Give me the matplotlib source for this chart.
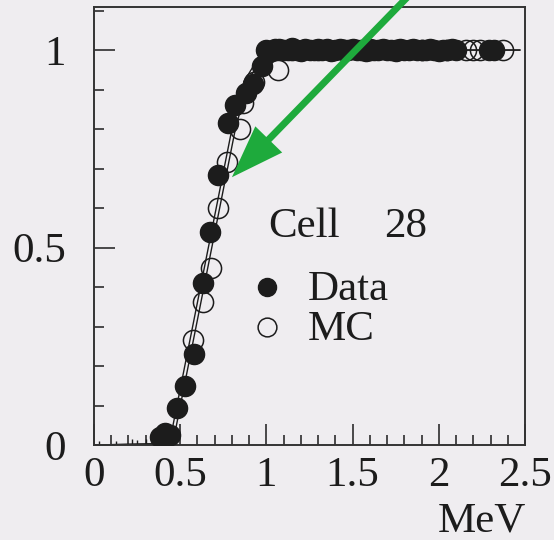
import matplotlib
matplotlib.use("Agg")
import matplotlib.pyplot as plt
from matplotlib.patches import ArrowStyle
from matplotlib.ticker import MultipleLocator

plt.rcParams['font.family'] = ['Liberation Serif', 'DejaVu Serif']

# Efficiency of cell 28 versus deposited energy (MeV)
data_x = [0.38, 0.41, 0.44, 0.48, 0.53, 0.58, 0.63, 0.675, 0.72, 0.775, 0.82,
          0.88, 0.92, 0.975,
          1.000, 1.025, 1.050, 1.075, 1.100, 1.125, 1.150, 1.175, 1.200, 1.225,
          1.250, 1.275, 1.300, 1.325, 1.350, 1.375, 1.400, 1.425, 1.450, 1.475,
          1.500, 1.525, 1.550, 1.575, 1.600, 1.625, 1.650, 1.675, 1.700, 1.725,
          1.750, 1.775, 1.800, 1.825, 1.850, 1.875, 1.900, 1.925, 1.950, 1.975,
          2.000, 2.025, 2.050, 2.075, 2.100, 2.290, 2.320]
data_y = [0.02, 0.03, 0.025, 0.094, 0.15, 0.23, 0.41, 0.54, 0.683, 0.815, 0.86,
          0.89, 0.915, 0.96,
          1.000, 0.998, 1.002, 1.003, 0.999, 1.001, 1.004, 1.000, 0.998, 1.002,
          1.001, 0.999, 1.003, 1.000, 1.002, 0.998, 1.001, 1.003, 1.000, 0.999,
          1.002, 1.000, 1.001, 0.998, 1.003, 1.000, 0.999, 1.002, 1.001, 1.000,
          0.998, 1.002, 1.001, 0.999, 1.003, 1.000, 1.001, 0.999, 1.002, 1.000,
          0.998, 1.001, 1.000, 1.002, 0.999, 1.000, 1.001]

mc_x = [0.42, 0.577, 0.635, 0.68, 0.72, 0.77, 0.845, 0.865, 0.93, 1.07,
        1.15, 1.30, 1.45, 1.60, 1.75, 1.90, 2.05, 2.16, 2.20, 2.24, 2.37]
mc_y = [0.02, 0.266, 0.363, 0.448, 0.60, 0.717, 0.80, 0.865, 0.92, 0.95,
        1.0, 1.0, 1.0, 1.0, 1.0, 1.0, 1.0, 1.0, 1.0, 1.0, 1.0]

# Below-threshold entries with their small error bars
low_x = [0.03, 0.13, 0.22, 0.25, 0.30, 0.34]
low_y = [0.003, 0.004, 0.006, 0.005, 0.006, 0.008]
low_err = [0.006, 0.006, 0.010, 0.008, 0.010, 0.010]

# Threshold curves drawn through the points
fit_data_x = [0.0, 0.36, 0.44, 0.80, 0.87, 0.96, 1.02, 2.47]
fit_data_y = [0.0, 0.003, 0.01, 0.80, 0.92, 0.985, 1.0, 1.0]
fit_mc_x = [0.0, 0.36, 0.46, 0.82, 0.90, 1.00, 1.06, 2.47]
fit_mc_y = [0.0, 0.003, 0.01, 0.80, 0.93, 0.99, 1.0, 1.0]

cell_label = "Cell"
cell_number = "28"
legend_labels = ["Data", "MC"]
x_ticks = [0, 0.5, 1, 1.5, 2, 2.5]
y_ticks = [0, 0.5, 1]

bg = '#efedf0'
ink = '#1c1c1c'
green = '#1eaa3c'
fs = 31

fig = plt.figure(figsize=(5.54, 5.40), dpi=100, facecolor=bg)
L, B, W, H = 94, 95, 431, 438
ax = fig.add_axes([L / 554, B / 540, W / 554, H / 540])
ax.set_facecolor(bg)
ax.set_xlim(0, 2.5)
ax.set_ylim(0, 1.109)


def px(x, y):
    """Pixel position (from top-left of the image) to axes fraction."""
    return (x - L) / W, (540 - y - B) / H


ax.plot(fit_data_x, fit_data_y, color=ink, lw=1.0, zorder=2)
ax.plot(fit_mc_x, fit_mc_y, color=ink, lw=1.0, zorder=2)
ax.errorbar(low_x, low_y, yerr=low_err, fmt='none', ecolor=ink, elinewidth=1.0, zorder=2)
ax.plot(mc_x, mc_y, 'o', ms=14.5, mfc='none', mec=ink, mew=1.1, zorder=3)
ax.plot(data_x, data_y, 'o', ms=14.5, color=ink, mec=ink, zorder=4)

# Label and legend block
ax.text(*px(268, 237), cell_label, transform=ax.transAxes, fontsize=fs,
        color=ink, va='baseline', ha='left')
ax.text(*px(384, 237), cell_number, transform=ax.transAxes, fontsize=fs,
        color=ink, va='baseline', ha='left')
ax.plot(*px(267, 287), 'o', ms=13, color=ink, transform=ax.transAxes, clip_on=False)
ax.plot(*px(267, 327), 'o', ms=13.5, mfc='none', mec=ink, mew=1.1,
        transform=ax.transAxes, clip_on=False)
ax.text(*px(308, 300), legend_labels[0], transform=ax.transAxes, fontsize=fs,
        color=ink, va='baseline', ha='left')
ax.text(*px(308, 340), legend_labels[1], transform=ax.transAxes, fontsize=fs,
        color=ink, va='baseline', ha='left')

# Axes styling
ax.set_xticks(x_ticks)
ax.set_xticklabels(['0', '0.5', '1', '1.5', '2', '2.5'])
ax.set_yticks(y_ticks)
ax.set_yticklabels(['0', '0.5', '1'])
ax.xaxis.set_minor_locator(MultipleLocator(0.1))
ax.yaxis.set_minor_locator(MultipleLocator(0.1))
ax.tick_params(which='both', direction='in', top=False, right=False,
               colors=ink, width=1.1, labelsize=fs, labelcolor=ink)
ax.tick_params(which='major', length=15)
ax.tick_params(which='minor', length=7.5)
ax.tick_params(axis='x', pad=8)
ax.tick_params(axis='y', pad=20)
for s in ax.spines.values():
    s.set_linewidth(1.4)
    s.set_color('#333333')

fig.text(526 / 554, 9 / 540, "MeV", fontsize=fs, color=ink, ha='right', va='baseline')

# Green pointer arrow
tip = (0.80, 0.678)
tail = (1.82, 1.135)
ax.annotate("", xy=tip, xytext=tail, annotation_clip=False,
            arrowprops=dict(arrowstyle=ArrowStyle.Simple(head_length=38, head_width=27,
                                                         tail_width=5),
                            mutation_scale=1, color=green, shrinkA=0, shrinkB=0,
                            lw=0, clip_on=False), zorder=6)

fig.savefig("out.png", dpi=100, facecolor=bg)
